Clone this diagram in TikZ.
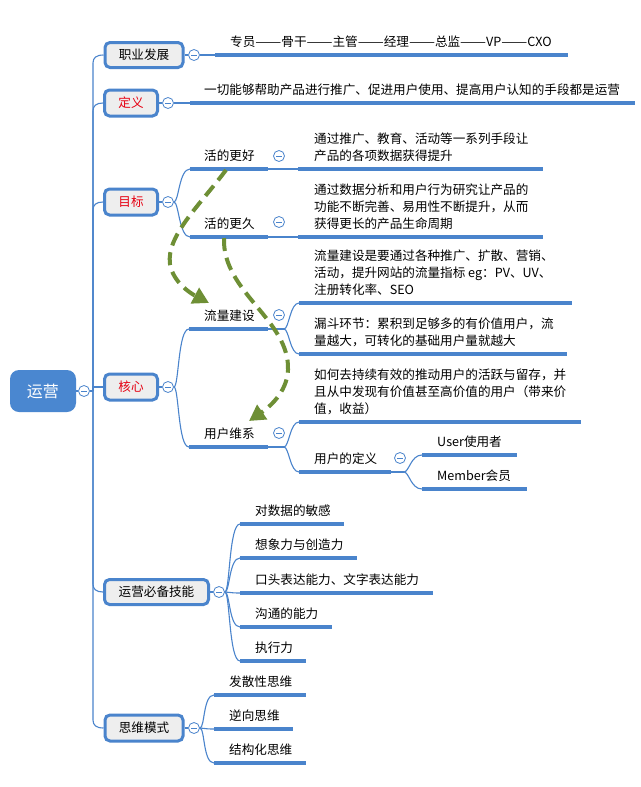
\documentclass[tikz,border=0pt]{standalone}
\usepackage{fontspec}
\setmainfont{Noto Sans CJK SC}
\usetikzlibrary{arrows.meta}
\definecolor{lb}{HTML}{4A84CC}
\definecolor{rootc}{HTML}{4A87D0}
\definecolor{boxf}{HTML}{EEEEEE}
\definecolor{tred}{HTML}{E60012}
\definecolor{arrg}{HTML}{6E8F35}
\newcommand{\fz}{\fontsize{12.6}{17}\selectfont}
\newcommand{\dd}{\resizebox{26pt}{\height}{——}}
\tikzset{
  conn/.style={draw=lb, line width=1.1pt},
  uline/.style={draw=lb, line width=4pt},
  bbox/.style={draw=lb, line width=3pt, fill=boxf, rounded corners=5pt, inner sep=0pt, font=\fz},
  coll/.style={circle, draw=lb, line width=0.8pt, fill=white, minimum size=11pt, inner sep=0pt,
     path picture={\draw[lb, line width=0.8pt] ([xshift=-2.6pt]path picture bounding box.center) -- ([xshift=2.6pt]path picture bounding box.center);}},
  lf/.style={anchor=south west, inner sep=0pt, align=left, font=\fz},
  darr/.style={draw=arrg, line width=4pt, dash pattern=on 13pt off 7pt, -{Triangle[length=16pt,width=17pt]}}
}
\begin{document}
\begin{tikzpicture}[x=1pt,y=-1pt]
\fill[white] (0,0) rectangle (640,787);
\useasboundingbox (0,0) rectangle (640,787);

% root
\node[fill=rootc, rounded corners=9pt, minimum width=66pt, minimum height=42pt, text=white, font=\fontsize{16}{18}\selectfont, inner sep=0pt] (root) at (43,391) {运营};
\node[coll] (rc) at (84,391) {};
\coordinate (tj) at (93,391);
\draw[conn] (root.east) -- (rc.west);
\draw[conn] (rc.east) -- (tj);

% main branch boxes
\node[bbox, minimum width=78pt, minimum height=25pt] (b1) at (144,55) {职业发展};
\node[bbox, minimum width=53pt, minimum height=26pt, text=tred] (b2) at (131,103) {定义};
\node[bbox, minimum width=53pt, minimum height=26pt, text=tred] (b3) at (131,202) {目标};
\node[bbox, minimum width=53pt, minimum height=26pt, text=tred] (b4) at (131,387) {核心};
\node[bbox, minimum width=104pt, minimum height=25pt] (b5) at (156.5,592) {运营必备技能};
\node[bbox, minimum width=78pt, minimum height=26pt] (b6) at (144,728) {思维模式};

% trunk
\draw[conn] (tj) -- (93,63) .. controls (93,58) and (96,55) .. (b1.west);
\draw[conn] (tj) -- (93,111) .. controls (93,106) and (96,103) .. (b2.west);
\draw[conn] (tj) -- (93,210) .. controls (93,205) and (96,202) .. (b3.west);
\draw[conn] (tj) -- (93,387) -- (b4.west);
\draw[conn] (tj) -- (93,584) .. controls (93,589) and (96,592) .. (b5.west);
\draw[conn] (tj) -- (93,720) .. controls (93,725) and (96,728) .. (b6.west);

% collapse circles of main branches
\node[coll] (c1) at (194,55) {};
\node[coll] (c2) at (168,103) {};
\node[coll] (c3) at (168,202) {};
\node[coll] (c4) at (168,387) {};
\node[coll] (c5) at (219,592) {};
\node[coll] (c6) at (194,728) {};
\foreach \i in {1,...,6} {\draw[conn] (b\i.east) -- (c\i.west);}

% 职业发展
\coordinate (l1s) at (215,55); \coordinate (l1e) at (568,55);
\draw[conn] (c1.east) -- (l1s);
\draw[uline] (l1s) -- (l1e);
\node[lf] (t1) at (230,52) {专员\dd 骨干\dd 主管\dd 经理\dd 总监\dd VP\dd CXO\strut};

% 定义
\coordinate (l2s) at (190,103); \coordinate (l2e) at (635,103);
\draw[conn] (c2.east) -- (l2s);
\draw[uline] (l2s) -- (l2e);
\node[lf] (t2) at (204,100) {一切能够帮助产品进行推广、促进用户使用、提高用户认知的手段都是运营\strut};

% 目标
\coordinate (s31s) at (190,169); \coordinate (s31e) at (268,169);
\coordinate (s32s) at (190,237); \coordinate (s32e) at (268,237);
\draw[conn] (c3.east) .. controls +(5,0) and +(-11,0) .. (s31s);
\draw[conn] (c3.east) .. controls +(5,0) and +(-11,0) .. (s32s);
\draw[uline] (s31s) -- (s31e);
\draw[uline] (s32s) -- (s32e);
\node[lf] (t31) at (204,166) {活的更好\strut};
\node[lf] (t32) at (204,234) {活的更久\strut};
\node[coll] (c31) at (279,156) {};
\node[coll] (c32) at (279,222) {};
\coordinate (l31s) at (298,169); \coordinate (l31e) at (543,169);
\coordinate (l32s) at (298,237); \coordinate (l32e) at (543,237);
\draw[conn] (s31e) -- (l31s);
\draw[conn] (s32e) -- (l32s);
\draw[uline] (l31s) -- (l31e);
\draw[uline] (l32s) -- (l32e);
\node[lf] (tl31) at (314,166) {通过推广、教育、活动等一系列手段让\\产品的各项数据获得提升\strut};
\node[lf] (tl32) at (314,234) {通过数据分析和用户行为研究让产品的\\功能不断完善、易用性不断提升，从而\\获得更长的产品生命周期\strut};

% 核心
\coordinate (s41s) at (189,329); \coordinate (s41e) at (268,329);
\coordinate (s42s) at (189,447); \coordinate (s42e) at (268,447);
\draw[conn] (c4.east) .. controls +(5,0) and +(-11,0) .. (s41s);
\draw[conn] (c4.east) .. controls +(5,0) and +(-11,0) .. (s42s);
\draw[uline] (s41s) -- (s41e);
\draw[uline] (s42s) -- (s42e);
\node[lf] (t41) at (204,326) {流量建设\strut};
\node[lf] (t42) at (204,444) {用户维系\strut};
\node[coll] (c41) at (279,315) {};
\node[coll] (c42) at (279,433) {};
\coordinate (f41) at (284,329);
\coordinate (f42) at (284,447);
\draw[conn] (s41e) -- (f41);
\draw[conn] (s42e) -- (f42);
% 流量建设 leaves
\coordinate (l41as) at (299,303); \coordinate (l41ae) at (572,303);
\coordinate (l41bs) at (299,354); \coordinate (l41be) at (567,354);
\draw[conn] (f41) .. controls +(5,0) and +(-9,0) .. (l41as);
\draw[conn] (f41) .. controls +(5,0) and +(-9,0) .. (l41bs);
\draw[uline] (l41as) -- (l41ae);
\draw[uline] (l41bs) -- (l41be);
\node[lf] (tl41a) at (314,300) {流量建设是要通过各种推广、扩散、营销、\\活动，提升网站的流量指标 eg：PV、UV、\\注册转化率、SEO\strut};
\node[lf] (tl41b) at (314,351) {漏斗环节：累积到足够多的有价值用户，流\\量越大，可转化的基础用户量就越大\strut};
% 用户维系 leaves
\coordinate (l42as) at (299,422); \coordinate (l42ae) at (581,422);
\coordinate (l42bs) at (299,472); \coordinate (l42be) at (391,472);
\draw[conn] (f42) .. controls +(5,0) and +(-9,0) .. (l42as);
\draw[conn] (f42) .. controls +(5,0) and +(-9,0) .. (l42bs);
\draw[uline] (l42as) -- (l42ae);
\draw[uline] (l42bs) -- (l42be);
\node[lf] (tl42a) at (314,419) {如何去持续有效的推动用户的活跃与留存，并\\且从中发现有价值甚至高价值的用户（带来价\\值，收益）\strut};
\node[lf] (tl42b) at (314,469) {用户的定义\strut};
\node[coll] (c42b) at (400,458) {};
\coordinate (f42b) at (404,472);
\draw[conn] (l42be) -- (f42b);
\coordinate (l5as) at (422,455); \coordinate (l5ae) at (517,455);
\coordinate (l5bs) at (422,489); \coordinate (l5be) at (527,489);
\draw[conn] (f42b) .. controls +(5,0) and +(-11,0) .. (l5as);
\draw[conn] (f42b) .. controls +(5,0) and +(-11,0) .. (l5bs);
\draw[uline] (l5as) -- (l5ae);
\draw[uline] (l5bs) -- (l5be);
\node[lf] (tu1) at (437,452) {User使用者\strut};
\node[lf] (tu2) at (437,486) {Member会员\strut};

% 运营必备技能
\coordinate (k1s) at (240,524); \coordinate (k1e) at (344,524);
\coordinate (k2s) at (240,558); \coordinate (k2e) at (357,558);
\coordinate (k3s) at (240,593); \coordinate (k3e) at (433,593);
\coordinate (k4s) at (240,627); \coordinate (k4e) at (332,627);
\coordinate (k5s) at (240,661); \coordinate (k5e) at (306,661);
\foreach \k in {1,...,5} {
  \draw[conn] (c5.east) .. controls +(5,0) and +(-11,0) .. (k\k s);
  \draw[uline] (k\k s) -- (k\k e);
}
\node[lf] (tk1) at (255,521) {对数据的敏感\strut};
\node[lf] (tk2) at (255,555) {想象力与创造力\strut};
\node[lf] (tk3) at (255,590) {口头表达能力、文字表达能力\strut};
\node[lf] (tk4) at (255,624) {沟通的能力\strut};
\node[lf] (tk5) at (255,658) {执行力\strut};

% 思维模式
\coordinate (m1s) at (214,695); \coordinate (m1e) at (306,695);
\coordinate (m2s) at (214,729); \coordinate (m2e) at (293,729);
\coordinate (m3s) at (214,763); \coordinate (m3e) at (306,763);
\foreach \k in {1,...,3} {
  \draw[conn] (c6.east) .. controls +(5,0) and +(-11,0) .. (m\k s);
  \draw[uline] (m\k s) -- (m\k e);
}
\node[lf] (tm1) at (229,692) {发散性思维\strut};
\node[lf] (tm2) at (229,726) {逆向思维\strut};
\node[lf] (tm3) at (229,760) {结构化思维\strut};

% dashed green arrows
\coordinate (a1s) at (226,170); \coordinate (a1m) at (170,264); \coordinate (a1e) at (209,303);
\coordinate (a2s) at (224,238); \coordinate (a2m) at (288,370); \coordinate (a2e) at (249,421);
\draw[darr] (a1s) .. controls (200,205) and (166,236) .. (a1m) .. controls (173,282) and (190,293) .. (a1e);
\draw[darr] (a2s) .. controls (222,292) and (290,320) .. (a2m) .. controls (287,393) and (268,408) .. (a2e);
\end{tikzpicture}
\end{document}
